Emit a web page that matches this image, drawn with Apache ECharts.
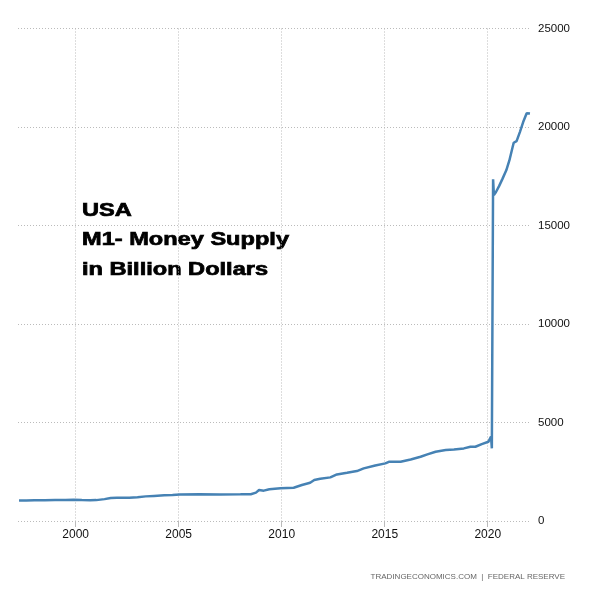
<!DOCTYPE html>
<html>
<head>
<meta charset="utf-8">
<script src="https://cdn.jsdelivr.net/npm/echarts@6/dist/echarts.min.js"></script>
<style>html,body{margin:0;padding:0;background:#fff}#c{width:600px;height:600px}</style>
</head>
<body>
<div id="c"></div>
<script>
// Time positions (decimal years) of the M1 observations
var years = [1997.25,1997.6,1998.0,1998.5,1999.0,1999.5,1999.9,2000.3,2000.7,2001.0,2001.4,2001.7,2002.0,2002.6,2003.0,2003.4,2003.8,2004.3,2004.7,2005.05,2006.0,2007.0,2008.0,2008.5,2008.75,2008.9,2009.13,2009.4,2009.94,2010.58,2010.98,2011.38,2011.58,2011.87,2012.36,2012.68,2013.17,2013.65,2013.98,2014.54,2015.03,2015.2,2015.77,2016.26,2016.74,2017.07,2017.47,2017.96,2018.36,2018.84,2019.16,2019.4,2019.71,2020.03,2020.11,2020.16,2020.2,2020.26,2020.3,2020.4,2020.55,2020.72,2020.9,2021.05,2021.2,2021.26,2021.4,2021.56,2021.72,2021.89,2022.05];
// M1 money supply, billion USD
var m1 = [1040,1045,1050,1050,1060,1065,1075,1060,1050,1060,1110,1170,1175,1185,1210,1250,1275,1305,1325,1350,1355,1350,1355,1360,1440,1570,1540,1615,1660,1690,1825,1945,2080,2145,2215,2365,2450,2535,2670,2820,2925,3005,3010,3125,3260,3380,3515,3600,3635,3685,3770,3770,3905,4020,4110,4280,3690,17350,16550,16700,17000,17380,17800,18300,18950,19200,19280,19740,20250,20700,20680];
var xTickYears = [2000,2005,2010,2015,2020];
var yTicks = [0,5000,10000,15000,20000,25000];
var titleLines = ['USA','M1- Money Supply','in Billion Dollars'];
var footer = 'TRADINGECONOMICS.COM  |  FEDERAL RESERVE';

var seriesData = years.map(function(y,i){return [y, m1[i]];});
var chart = echarts.init(document.getElementById('c'), null, {renderer:'canvas'});
var titleGraphics = titleLines.map(function(t,i){
  return {type:'text', x:82, y:211 + i*29.5, scaleX:1.31, scaleY:1,
    style:{text:t, fill:'#000', stroke:'#000', lineWidth:0.7, font:'bold 18px "Liberation Sans", Arial, sans-serif', verticalAlign:'middle', align:'left'}};
});
chart.setOption({
  animation:false,
  backgroundColor:'#fff',
  grid:{left:18, right:69, top:28.5, bottom:79, containLabel:false},
  xAxis:{type:'value', min:1997.2, max:2022.1,
    axisLine:{show:false},
    axisTick:{show:true, length:6, lineStyle:{color:'#bbb'}, customValues:xTickYears},
    axisLabel:{customValues:xTickYears, color:'#111', fontSize:12, fontFamily:'"Liberation Sans", Arial, sans-serif', margin:8,
      formatter:function(v){return String(v);}},
    splitLine:{show:true, lineStyle:{color:'#bbb', type:[1,2], width:1}}
  },
  yAxis:{type:'value', position:'right', min:yTicks[0], max:yTicks[yTicks.length-1], interval:5000,
    axisLine:{show:false}, axisTick:{show:false},
    axisLabel:{color:'#111', fontSize:11.5, fontFamily:'"Liberation Sans", Arial, sans-serif', margin:7, align:'left',
      formatter:function(v){return String(v);}},
    splitLine:{show:true, lineStyle:{color:'#bbb', type:[1,2], width:1}}
  },
  series:[{type:'line', data:seriesData, showSymbol:false, symbol:'none',
    lineStyle:{color:'#4682b4', width:2.5}, itemStyle:{color:'#4682b4'}}],
  graphic: titleGraphics.concat([
    {type:'text', x:565, y:577, style:{text:footer, fill:'#666', font:'8px "Liberation Sans", Arial, sans-serif', align:'right', verticalAlign:'middle'}}
  ])
});
</script>
</body>
</html>
